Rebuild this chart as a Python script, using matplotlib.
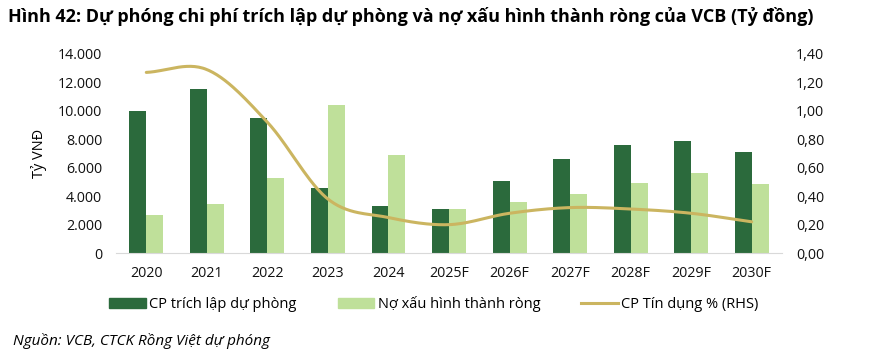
import numpy as np
import matplotlib
matplotlib.use("Agg")
import matplotlib.pyplot as plt
from matplotlib.lines import Line2D
from matplotlib.patches import Patch
from matplotlib.ticker import FuncFormatter

categories = ["2020", "2021", "2022", "2023", "2024", "2025F", "2026F", "2027F", "2028F", "2029F", "2030F"]
cp_trich_lap = [10000, 11500, 9500, 4570, 3300, 3100, 5050, 6600, 7620, 7880, 7100]
no_xau = [2650, 3450, 5280, 10420, 6900, 3080, 3570, 4180, 4900, 5650, 4830]
cp_tin_dung = [1.27, 1.29, 0.92, 0.38, 0.25, 0.20, 0.28, 0.32, 0.31, 0.28, 0.22]

plt.rcParams['font.family'] = ['Open Sans', 'DejaVu Sans']

DARK = "#2B6A3C"
LIGHT = "#BFE09A"
GOLD = "#CBB560"

fig = plt.figure(figsize=(8.75, 3.57), dpi=100)
ax = fig.add_axes([0.1326, 0.291, 0.7611, 0.558])
ax2 = ax.twinx()

x = np.arange(len(categories))
w = 0.28
ax.bar(x - w / 2, cp_trich_lap, w, color=DARK, zorder=2)
ax.bar(x + w / 2, no_xau, w, color=LIGHT, zorder=2)

# Smooth line (Catmull-Rom through the data points, like Excel's smoothed line)
def catmull_rom(xs, ys, n=30):
    px = np.concatenate([[2 * xs[0] - xs[1]], xs, [2 * xs[-1] - xs[-2]]])
    py = np.concatenate([[2 * ys[0] - ys[1]], ys, [2 * ys[-1] - ys[-2]]])
    ox, oy = [], []
    for i in range(1, len(px) - 2):
        t = np.linspace(0, 1, n, endpoint=(i == len(px) - 3))
        for arr, out in ((px, ox), (py, oy)):
            p0, p1, p2, p3 = arr[i - 1], arr[i], arr[i + 1], arr[i + 2]
            out.extend(0.5 * ((2 * p1) + (-p0 + p2) * t + (2 * p0 - 5 * p1 + 4 * p2 - p3) * t ** 2
                              + (-p0 + 3 * p1 - 3 * p2 + p3) * t ** 3))
    return np.array(ox), np.array(oy)

sx, sy = catmull_rom(x.astype(float), np.array(cp_tin_dung, dtype=float))
ax2.plot(sx, sy, color=GOLD, lw=2.2, solid_capstyle='round', zorder=3)

ax.set_xlim(-0.5, len(categories) - 0.5)
ax.set_ylim(0, 14000)
ax.set_yticks(np.arange(0, 14001, 2000))
ax.yaxis.set_major_formatter(FuncFormatter(lambda v, p: f"{int(v):,}".replace(",", ".")))
ax2.set_ylim(0, 1.4)
ax2.set_yticks(np.arange(0, 1.41, 0.2))
ax2.yaxis.set_major_formatter(FuncFormatter(lambda v, p: f"{v:.2f}".replace(".", ",")))

ax.set_xticks(x)
ax.set_xticklabels(categories)

for a in (ax, ax2):
    for s in ("top", "right", "left", "bottom"):
        a.spines[s].set_visible(False)
    a.tick_params(length=0, labelsize=10.3, colors="#111111")
ax.spines["bottom"].set_visible(True)
ax.spines["bottom"].set_color("#D9D9D9")
ax.tick_params(axis="x", pad=9)
ax.tick_params(axis="y", pad=10)
ax2.tick_params(axis="y", pad=10)

ax.set_ylabel("Tỷ VNĐ", fontsize=10.5, labelpad=8)

fig.text(0.009, 0.955, "Hình 42: Dự phóng chi phí trích lập dự phòng và nợ xấu hình thành ròng của VCB (Tỷ đồng)",
         fontsize=13, fontweight="bold", va="center", ha="left")

handles = [Patch(color=DARK), Patch(color=LIGHT), Line2D([0], [0], color=GOLD, lw=2.2)]
labels = ["CP trích lập dự phòng", "Nợ xấu hình thành ròng", "CP Tín dụng % (RHS)"]
fig.legend(handles, labels, loc="center", bbox_to_anchor=(0.496, 0.148), ncol=3, frameon=False,
           fontsize=10.5, handlelength=2.5, handleheight=0.7, handletextpad=0.25, columnspacing=2.8)

fig.text(0.015, 0.045, "Nguồn: VCB, CTCK Rồng Việt dự phóng", fontsize=11, style="italic",
         va="center", ha="left")

fig.savefig("out.png", dpi=100)
